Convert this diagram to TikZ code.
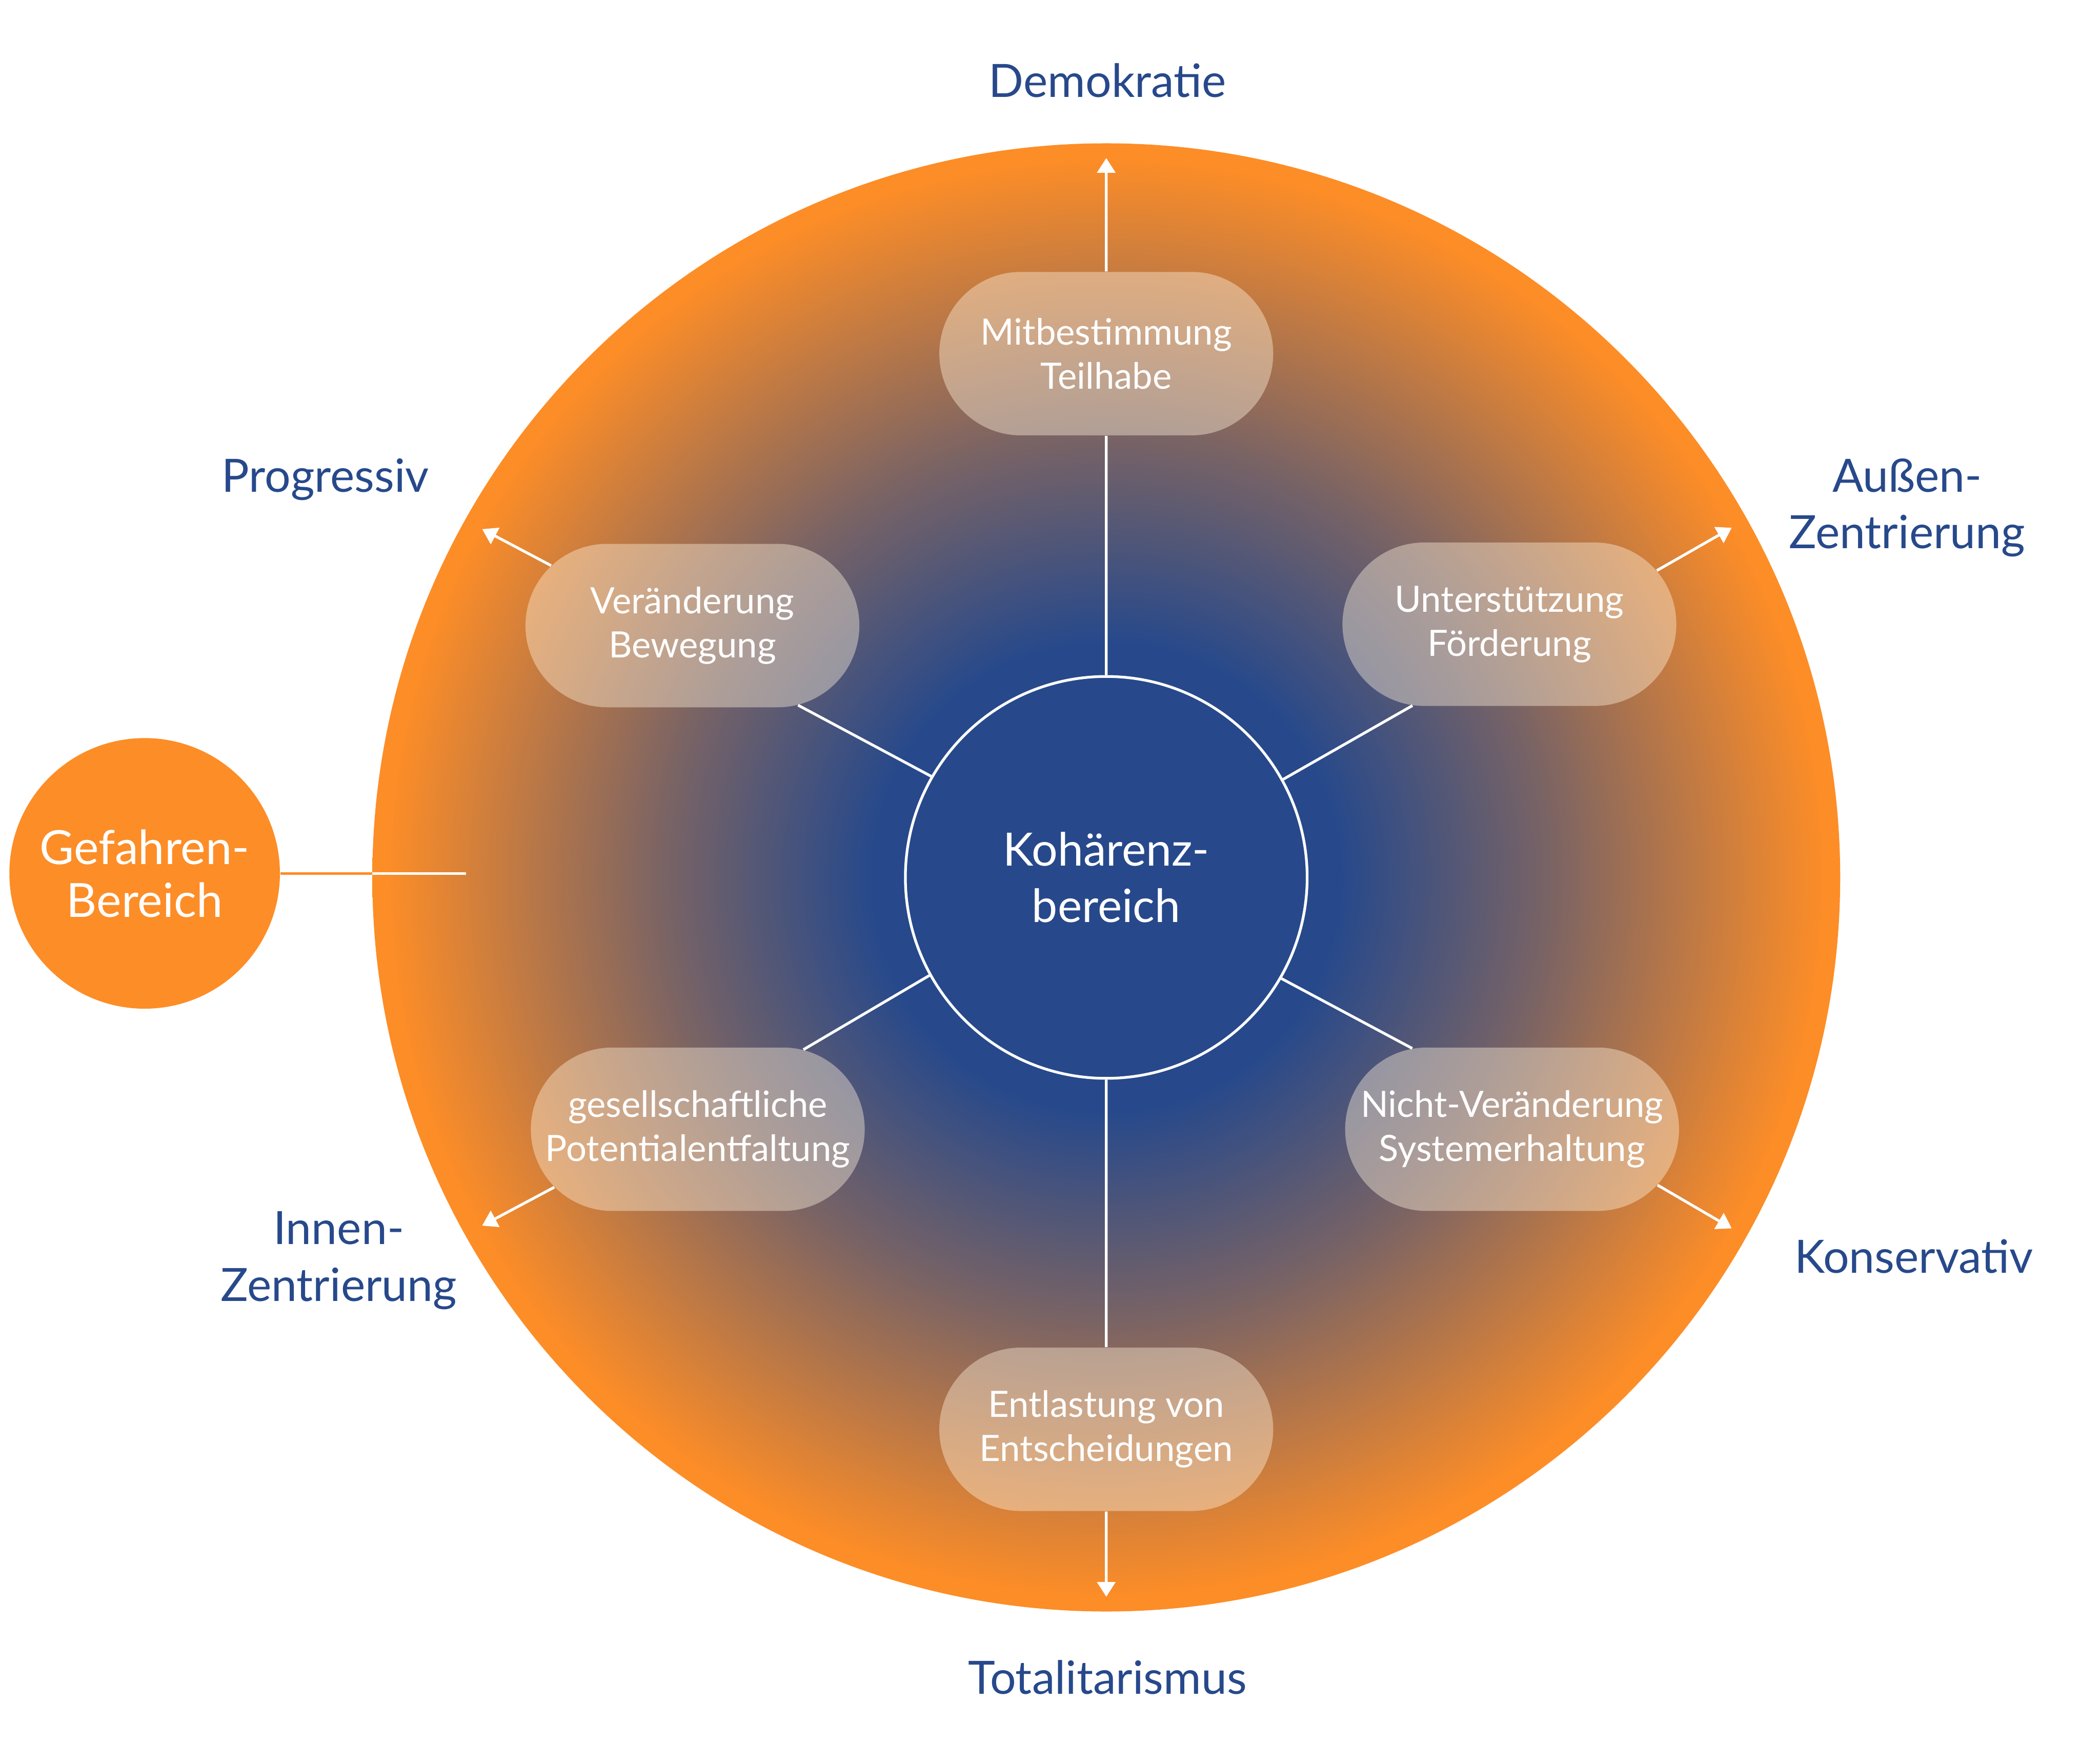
\documentclass[tikz,border=0pt]{standalone}
\usepackage{fontspec}
\setmainfont{Lato}
\usepackage{tikz}
\usetikzlibrary{arrows.meta,shapes,positioning}

\definecolor{kohblue}{RGB}{39,73,139}
\definecolor{glutorange}{RGB}{253,141,39}
\definecolor{boxfill}{RGB}{255,242,220}
\colorlet{glutmid}{kohblue!62!glutorange}
\pgfdeclareradialshading{glut}{\pgfpoint{0bp}{0bp}}{color(0bp)=(kohblue); color(8bp)=(kohblue); color(15bp)=(glutmid); color(24.5bp)=(glutorange); color(50bp)=(glutorange)}

\begin{document}
\begin{tikzpicture}[>={Triangle[length=0.22cm,width=0.27cm]},
    every node/.style={font=\fontsize{19.5}{24}\selectfont},
    box/.style={rounded rectangle, minimum width=5.22cm, minimum height=2.44cm,
      fill=boxfill, fill opacity=0.42, text opacity=1, text=white, align=center,
      font=\fontsize{15.4}{18.7}\selectfont},
    pole/.style={text=kohblue, align=center},
    link/.style={draw=white, line width=1.15pt}]
    % Frame
    \useasboundingbox (0,0) rectangle (31.36,26.32);

    % Outer field
    \shade[shading=glut] (16.52,13.22) circle (10.96);

    % Core
    \node[circle, draw=white, line width=1.15pt, fill=kohblue, minimum size=6cm,
      text=white, align=center] (koh) at (16.52,13.22) {Kohärenz-\\bereich};

    % Boxes
    \node[box] (mit) at (16.52,21.04) {Mitbestimmung\\Teilhabe};
    \node[box] (ver) at (10.34,16.98) {Veränderung\\Bewegung};
    \node[box] (unt) at (22.54,17.00) {Unterstützung\\Förderung};
    \node[box] (ges) at (10.42,9.46) {gesellschaftliche\\Potentialentfaltung};
    \node[box] (nic) at (22.58,9.46) {Nicht-Veränderung\\Systemerhaltung};
    \node[box] (ent) at (16.52,4.98) {Entlastung von\\Entscheidungen};

    % Danger zone
    \node[circle, fill=glutorange, minimum size=4.04cm, text=white, align=center,
      font=\fontsize{20}{22.5}\selectfont] (gef) at (2.16,13.28) {Gefahren-\\Bereich};
    \coordinate (rim) at (5.56,13.28);
    \coordinate (gefend) at (6.96,13.28);

    % Arrow ends
    \coordinate (demtip) at (16.52,23.96);
    \coordinate (tottip) at (16.52,2.48);
    \coordinate (protip) at (7.20,18.42);
    \coordinate (austip) at (25.86,18.44);
    \coordinate (inntip) at (7.20,8.02);
    \coordinate (kontip) at (25.86,7.98);

    % Spokes
    \draw[link] (koh) -- (mit);
    \draw[link] (koh) -- (ent);
    \draw[link] (koh.150.7) -- (ver.-37);
    \draw[link] (koh.29.3) -- (unt.220.6);
    \draw[link] (koh.209.3) -- (ges.37.9);
    \draw[link] (koh.330.7) -- (nic.141);
    \draw[link,->] (mit) -- (demtip);
    \draw[link,->] (ent) -- (tottip);
    \draw[link,->] (ver.157.3) -- (protip);
    \draw[link,->] (unt.20.4) -- (austip);
    \draw[link,->] (ges.202.5) -- (inntip);
    \draw[link,->] (nic.-21.3) -- (kontip);
    \draw[glutorange, line width=1.15pt] (gef) -- (rim);
    \draw[link] (rim) -- (gefend);

    % Labels
    \node[pole] (dem) at (16.54,25.12) {Demokratie};
    \node[pole] (pro) at (4.86,19.16) {Progressiv};
    \node[pole] (aus) at (28.48,18.74) {Außen-\\Zentrierung};
    \node[pole] (inn) at (5.06,7.50) {Innen-\\Zentrierung};
    \node[pole] (kon) at (28.58,7.56) {Konservativ};
    \node[pole] (tot) at (16.54,1.28) {Totalitarismus};
  \end{tikzpicture}
\end{document}
